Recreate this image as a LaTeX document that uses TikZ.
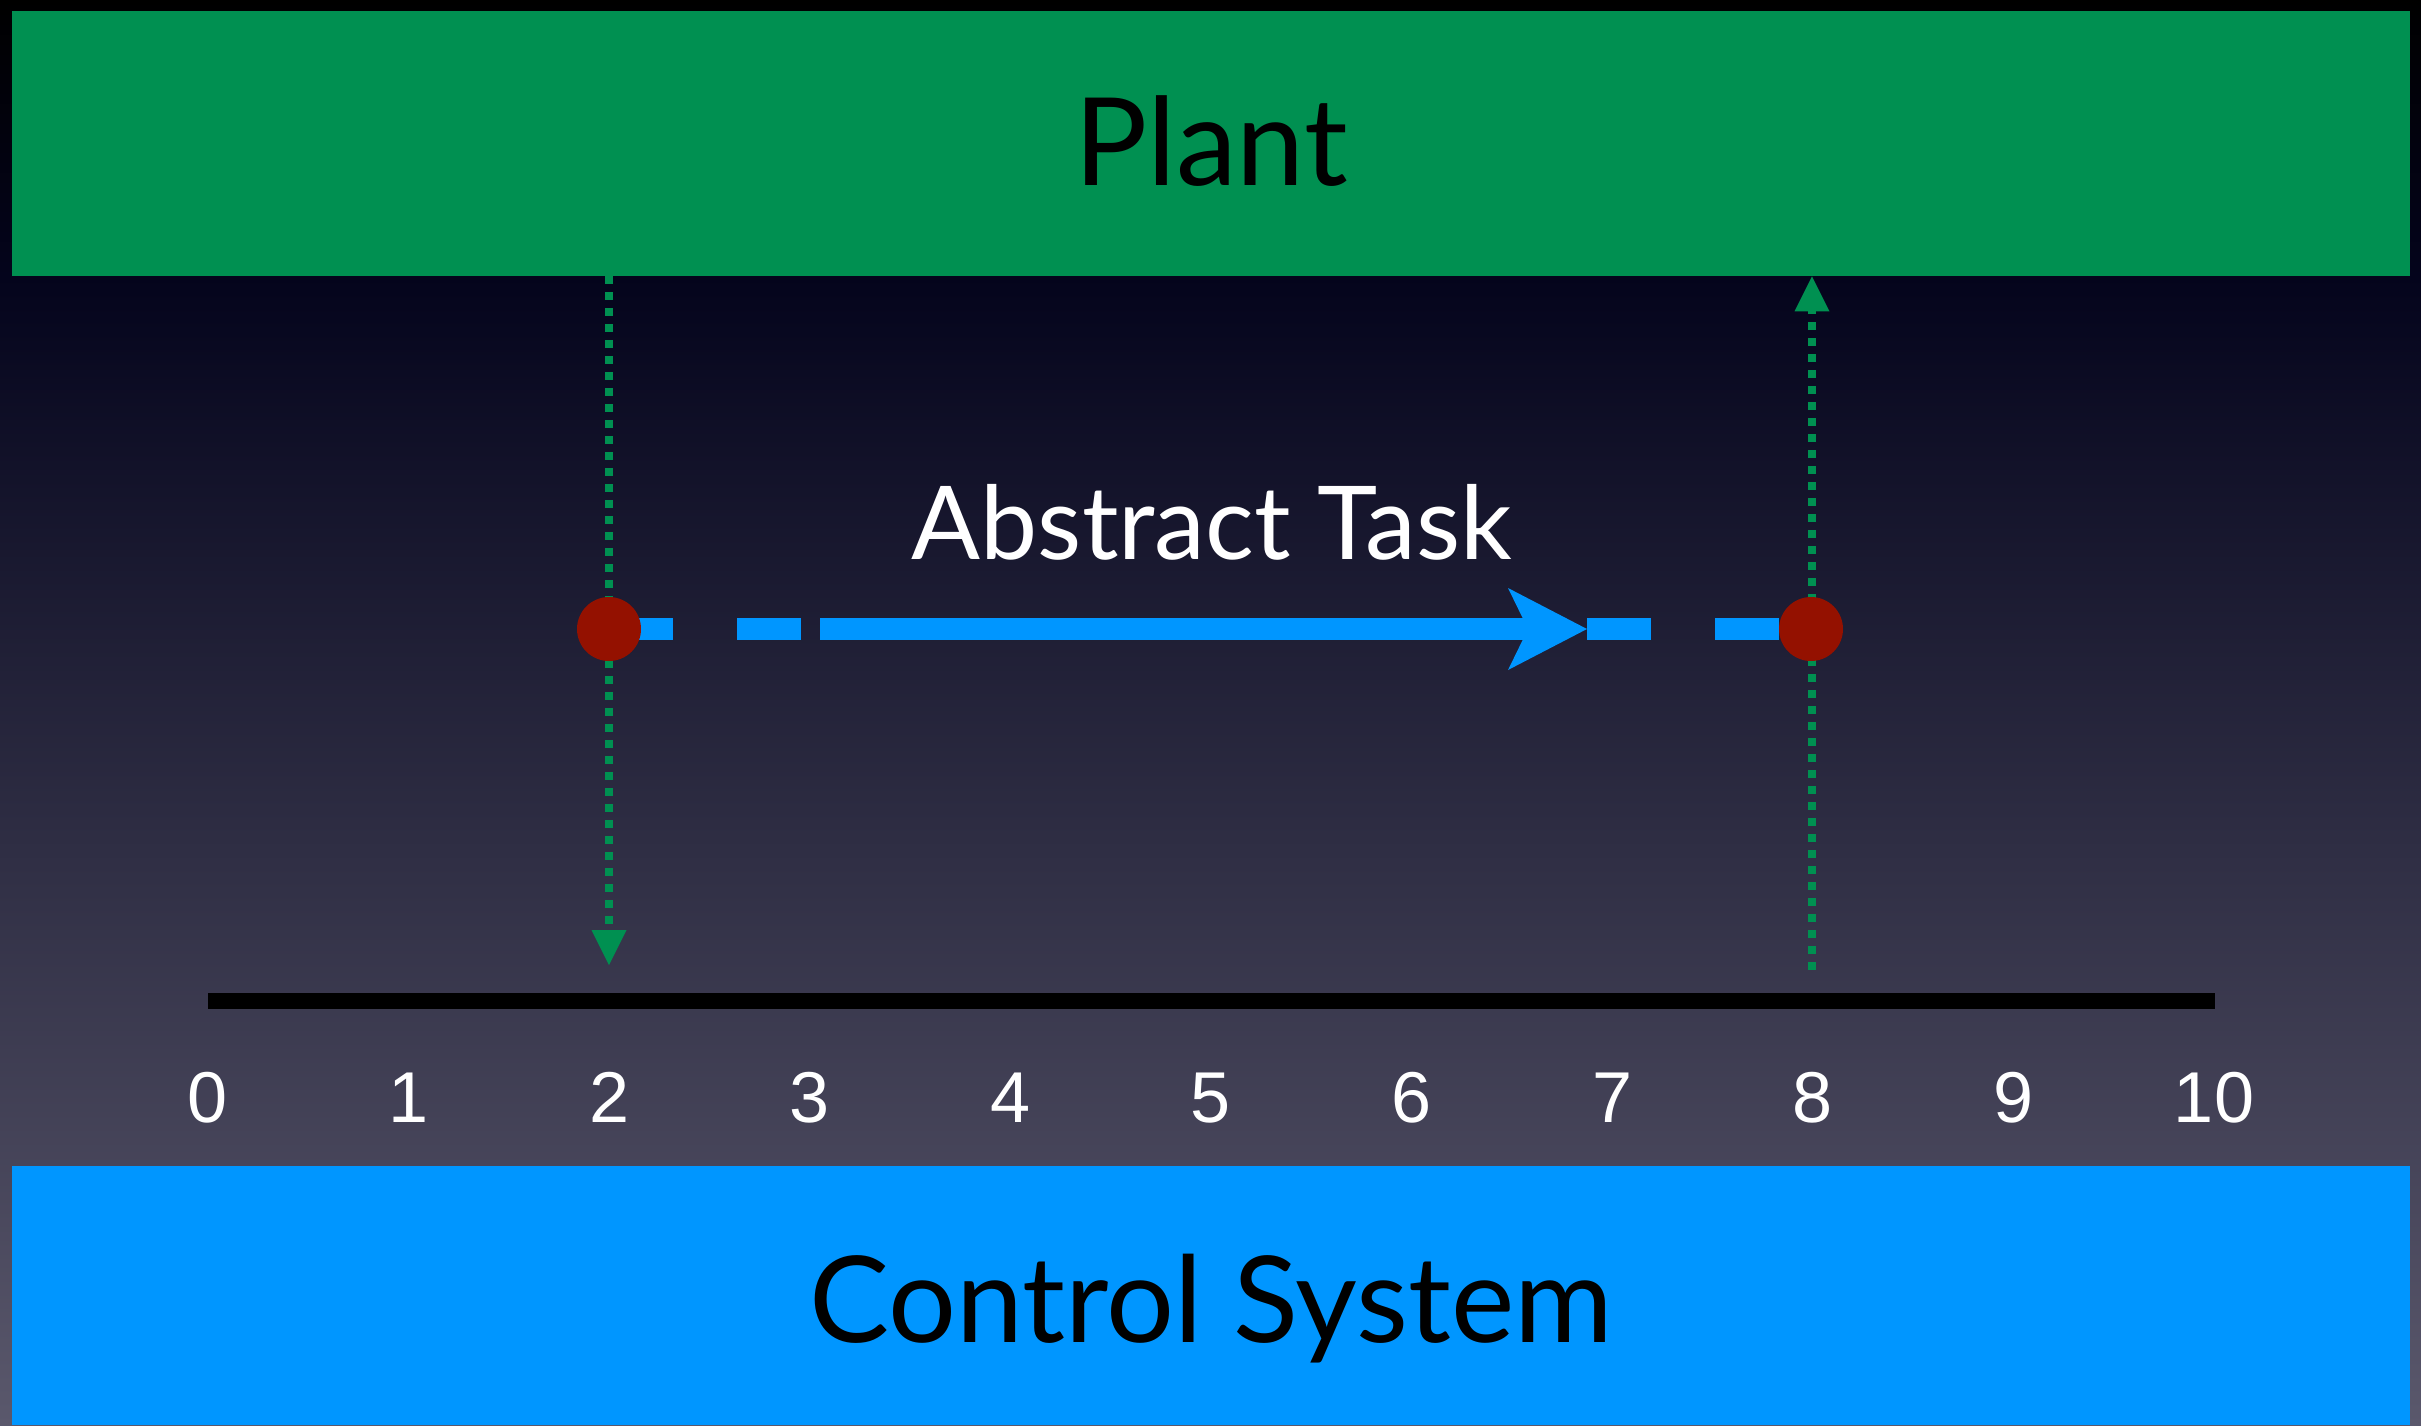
\documentclass[tikz,border=0pt]{standalone}
\usepackage{fontspec}
\usetikzlibrary{arrows.meta}
\newfontfamily\titlefont{Lato}
\newfontfamily\numfont{Liberation Sans}
\definecolor{plantgreen}{HTML}{009051}
\definecolor{ctrlblue}{HTML}{0096FF}
\definecolor{dotred}{HTML}{941100}
\definecolor{bgtop}{HTML}{04041C}
\definecolor{bgbottom}{HTML}{5A586C}
\pgfdeclarelayer{bg}
\pgfdeclarelayer{lines}
\pgfsetlayers{bg,lines,main}
\tikzset{
  bandbox/.style={rectangle, inner sep=0pt, minimum width=1199pt, text depth=0pt},
  sig/.style={plantgreen, line width=4pt, dash pattern=on 4pt off 4pt,
    -{Triangle[length=17.5pt, width=17.5pt, line width=0pt]}},
  taskline/.style={ctrlblue, line width=11pt},
  taskdash/.style={taskline, dash pattern=on 32pt off 32pt},
  event/.style={circle, fill=dotred, minimum size=32pt, inner sep=0pt},
  tick/.style={text=white, font=\numfont\fontsize{36}{40}\selectfont, anchor=base},
}
\begin{document}
\begin{tikzpicture}[x=0.5pt, y=-0.5pt]
\useasboundingbox (0,0) rectangle (2421,1425);
\begin{pgfonlayer}{bg}
  \fill[black] (0,0) rectangle (2421,276);
  \shade[top color=black, bottom color=bgtop] (0,0) rectangle (2421,276);
  \shade[top color=bgtop, bottom color=bgbottom] (0,276) rectangle (2421,1425);
\end{pgfonlayer}

% plant and control system bands
\node[bandbox, fill=plantgreen, minimum height=132.5pt, text height=41.5pt,
  font=\titlefont\fontsize{61}{70}\selectfont] (plant) at (1211,143.5) {Plant};
\node[bandbox, fill=ctrlblue, minimum height=129.5pt, text height=46.5pt,
  font=\titlefont\fontsize{60}{70}\selectfont] (ctrl) at (1211,1295.5) {Control System};

% time axis
\coordinate (ax0) at (208,1001);
\coordinate (ax1) at (2215,1001);
\foreach \i in {0,...,10} {
  \node[tick] (t\i) at ({208+200.6*\i},1122) {\i};
}

% task label and events
\node[text=white, font=\titlefont\fontsize{51}{60}\selectfont, anchor=base] (task) at (1212,559) {Abstract Task};
\node[event] (d1) at (609,629) {};
\node[event] (d2) at (1811,629) {};
\coordinate (a0) at (820,629);
\coordinate (a1) at (1587,629);
\coordinate (obs) at (609,965);
\coordinate (act) at (1812,970);

\begin{pgfonlayer}{lines}
  \draw[black, line width=8pt] (ax0) -- (ax1);
  \draw[sig] (plant.south -| d1) -- (obs);
  \draw[sig] (act) -- (act |- plant.south);
  \draw[taskdash] (d1.center) -- (a0);
  \draw[taskline, -{Stealth[length=39.5pt, width=41pt, inset=10pt, line width=0pt]}] (a0) -- (a1);
  \draw[taskdash] (a1) -- (d2.center);
\end{pgfonlayer}
\end{tikzpicture}
\end{document}
